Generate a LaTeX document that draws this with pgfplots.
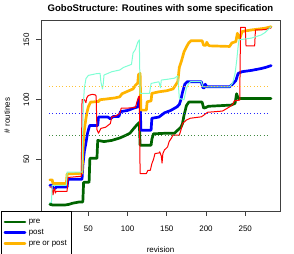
\documentclass[border=0pt]{standalone}
\usepackage{pgfplots}
\pgfplotsset{compat=1.18}
\usepackage{fontspec}
\setmainfont{Liberation Sans}
\definecolor{cpre}{HTML}{006400}
\definecolor{cpost}{HTML}{0000FF}
\definecolor{cor}{HTML}{FFB400}
\definecolor{caq}{HTML}{7FFFD4}
\definecolor{cred}{HTML}{FF0000}
\begin{document}
\begin{tikzpicture}
\useasboundingbox (-41bp,-43bp) rectangle (253bp,211bp);
\begin{axis}[
  scale only axis, width=239bp, height=191bp,
  xmin=-10.3, xmax=294.3, ymin=7, ymax=166.6,
  axis line style={black!75, line width=0.75bp},
  xtick={0,50,...,250}, ytick={50,100,150},
  xtick pos=left, ytick pos=left,
  tick align=outside, major tick length=4.5bp,
  tick style={black!75, line width=0.75bp},
  tick label style={font=\fontsize{8}{9}\selectfont},
  /pgf/number format/assume math mode=true,
  yticklabel style={rotate=90, anchor=south, inner sep=0pt},
  xticklabel style={anchor=base, inner sep=0pt},
  xticklabel shift=16.2bp, yticklabel shift=7bp,
  xlabel={revision},
  xlabel style={at={([yshift=-41bp]axis description cs:0.5,0)}, anchor=base, inner sep=0pt, font=\fontsize{8}{9}\selectfont},
  ylabel={\# routines},
  ylabel style={at={([xshift=-31bp]axis description cs:0,0.5)}, rotate=0, anchor=base, inner sep=0pt, font=\fontsize{8}{9}\selectfont},
  title={GoboStructure: Routines with some specification},
  title style={at={([yshift=3bp]axis description cs:0.5,1)}, anchor=base, inner sep=0pt, font=\bfseries\fontsize{9.6}{11}\selectfont},
  legend cell align=left,
  legend image code/.code={\draw[#1] (0bp,0bp) -- (20bp,0bp);},
  legend style={at={([xshift=-39.8bp]axis description cs:0,0)}, anchor=north west,
    draw=black, fill=white, line width=0.75bp, font=\fontsize{8}{9}\selectfont,
    inner xsep=2bp, inner ysep=5.1bp, row sep=0pt,
    nodes={inner xsep=2.5bp, inner ysep=1.65bp, text height=5.8bp, text depth=1.7bp}},
  every axis plot/.append style={line join=round, line cap=round},
]
\addplot[cpre, line width=2.7bp] coordinates {
(1,12.5) (3,12.5) (4,12) (20,12) (25,12.5) (30,13.5) (38,14.5) (43,14.5) (44,31) (51,31) (52,51) (61,51) (62,66) (66,65.5) (70,65) (80,66) (90,68) (97,70) (103,72) (108,76) (112,79) (115,81) (116,62) (130,62) (131,67) (133,71.5) (150,72) (160,72) (163,74) (168,77) (170,80) (172,87) (175,95) (178,98) (195,98) (197,93) (200,93.5) (203,94.5) (232,95.5) (237,97) (239,105) (241,101) (283,101)};
\addlegendentry{pre}
\addplot[cpost, line width=2.7bp] coordinates {
(1,28.5) (4,28.5) (5,26) (8,26) (9,27) (23,27) (24,33.5) (42,33.5) (43,45) (45,57) (47,64) (49,72) (51,77) (52,78.5) (62,78.5) (63,85.5) (75,85.5) (78,84) (82,86) (89,86) (91,90) (100,91) (108,93) (113,94) (114,100) (116,101) (117,74.5) (130,74.5) (131,84.5) (140,85.5) (147,89) (155,91) (163,94) (166,96) (168,100) (170,106) (173,113) (176,115) (194,115) (196,110) (198,110) (199,113) (201,110.8) (230,110.8) (234,113) (238,116) (241,122) (246,123.4) (258,124.5) (270,126) (276,127) (283,128.5)};
\addlegendentry{post}
\addplot[cor, line width=2.7bp] coordinates {
(1,33) (4,33) (5,30) (22,30) (23,38) (42,38.5) (43,55) (44,69) (46,80) (48,88.5) (50,94) (53,98) (63,98.5) (65,100) (72,100.5) (84,101.5) (90,102.4) (93,105) (100,107) (107,109) (110,112) (113,114) (114,121) (116,122) (117,91.3) (124,91.3) (125,98.3) (130,99) (131,105.3) (140,106.6) (150,107.5) (158,109) (161,112) (164,115) (166,127) (169,133) (172,140) (175,144) (178,147.5) (181,149.3) (195,149.3) (197,145.5) (200,145.5) (201,148) (203,145.5) (205,145) (230,144.5) (233,147.5) (238,148.5) (240,155.5) (243,151) (246,157) (258,158.3) (275,159.7) (283,161)};
\addlegendentry{pre or post}
\addplot[cred, line width=1bp, forget plot] coordinates {
(1,27) (4,27) (5,20.5) (6,24) (7,26) (8,22) (9,23.5) (23,23.5) (24,35) (40,36) (41,36) (42,100) (45,100) (47,97.5) (48,101.5) (50,103.5) (55,104.5) (59,104) (60,103) (61,75) (63,72) (66,76) (72,77) (78,80) (80,85.7) (85,86.5) (90,88.5) (92,93) (100,93) (110,93.5) (112,98.3) (114,102.4) (115,103) (116,38.3) (124,38.3) (126,41) (129,41) (131,46.6) (133,50) (135,55) (140,55.5) (141,56.5) (143,53) (144,47) (145,55) (147,58) (149,59.2) (151,60.5) (153,65) (156,68) (158,70.4) (166,70.4) (168,74.5) (170,80) (175,83) (180,84.5) (194,85.7) (197,87) (200,88.5) (202,89.5) (221,90.5) (230,94) (234,96) (236,99) (243,99.7) (244,160.5) (250,160.5) (251,145) (262,145) (263,158.3) (275,158.5) (283,160)};
\addplot[caq, line width=1bp, forget plot] coordinates {
(1,14) (3,14) (4,28.5) (22,28.5) (23,39.5) (42,39.5) (43,77) (44,100) (45,110) (47,117.6) (50,120.3) (60,121.7) (65,122) (66,115) (68,109) (69,113) (70,120.6) (75,122) (80,123.4) (90,124.8) (95,127) (105,129.5) (107,139) (110,142) (113,148) (115,150) (116,105.3) (128,105.3) (130,113.6) (140,115) (142,110) (143,116.4) (150,117) (160,118) (164,120) (166,101) (172,100) (175,109.5) (178,113.6) (180,115) (194,115) (196,110.8) (230,110.8) (234,114) (237,122) (239,132) (241,145) (242,150) (258,151.5) (270,154) (275,156) (283,161)};
\addplot[cpre!75!white, line width=1bp, dash pattern=on 1bp off 2.3bp, line cap=butt, forget plot] coordinates {(0,70.4) (280,70.4)};
\addplot[cpost!85!white, line width=1bp, dash pattern=on 1bp off 2.3bp, line cap=butt, forget plot] coordinates {(0,88.5) (280,88.5)};
\addplot[cor!80!white, line width=1bp, dash pattern=on 1bp off 2.3bp, line cap=butt, forget plot] coordinates {(0,110.8) (280,110.8)};
\end{axis}
\end{tikzpicture}
\end{document}
